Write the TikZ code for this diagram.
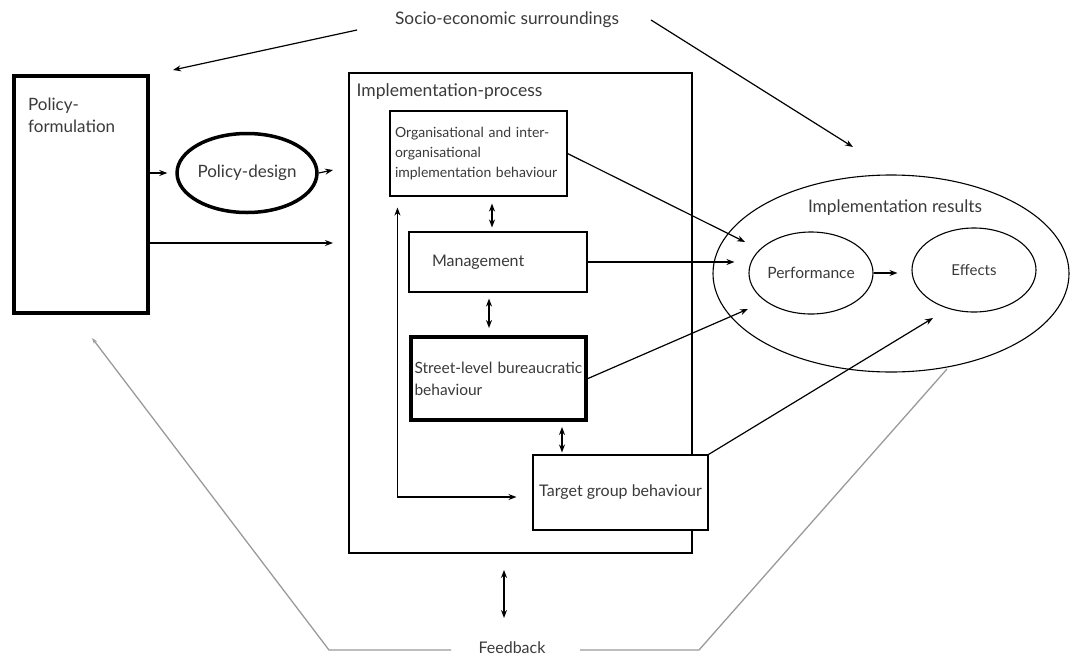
\documentclass[tikz,border=0pt]{standalone}
\usepackage{fontspec}
\setmainfont{Lato}
\usetikzlibrary{arrows.meta,shapes.geometric,positioning}
\definecolor{feedgray}{HTML}{9A9A9A}
\definecolor{labelgray}{HTML}{3A3A3A}

\begin{document}
\begin{tikzpicture}[
  x=1pt,y=-1pt,
  >={Stealth[length=8pt,width=6pt]},
  box/.style={draw,line width=1.1pt,fill=white,inner sep=0pt},
  heavybox/.style={draw,line width=4pt,fill=white,inner sep=0pt},
  oval/.style={ellipse,draw,line width=1.1pt,inner sep=0pt},
  link/.style={line width=1.2pt,->},
  twoway/.style={line width=1.4pt,<->},
  feedline/.style={feedgray,line width=1.3pt},
  every node/.style={text=labelgray,font=\fontsize{16}{20}\selectfont}
]
  \useasboundingbox (0,0) rectangle (1071,659);

  % surroundings and policy side
  \node[font=\fontsize{17.3}{20}\selectfont] (socio) at (507,20) {Socio-economic surroundings};
  \node[heavybox,minimum width=134pt,minimum height=237pt] (formulation) at (81,194.5) {};
  \node[anchor=north west,inner sep=0pt,align=left,font=\fontsize{17}{22}\selectfont]
    (formulationlabel) at ([xshift=16pt,yshift=-24pt]formulation.north west) {Policy-\\formulation};
  \node[oval,line width=3.5pt,minimum width=121pt,minimum height=79pt,font=\fontsize{17}{20}\selectfont]
    (design) at (247,173) {Policy-design};

  % implementation process
  \node[box,minimum width=343pt,minimum height=480pt] (impl) at (520.5,313) {};
  \node[anchor=north west,inner sep=0pt,font=\fontsize{17.5}{20}\selectfont]
    (impllabel) at ([xshift=8pt,yshift=-11pt]impl.north west) {Implementation-process};
  \node[box,minimum width=177pt,minimum height=85pt,text width=167pt,align=left,font=\fontsize{14}{20}\selectfont]
    (org) at (478.5,153.5) {Organisational and inter-\\organisational\\implementation behaviour};
  \node[box,minimum width=178pt,minimum height=60pt,text width=132pt,align=left] (mgmt) at (498,262) {Management};
  \node[heavybox,minimum width=175pt,minimum height=83pt,text width=168pt,align=left,font=\fontsize{15.5}{22}\selectfont]
    (street) at (498.5,378.5) {Street-level bureaucratic\\behaviour};
  \node[box,minimum width=175pt,minimum height=75pt] (target) at (620.5,492.5) {Target group behaviour};

  % results
  \node[oval,minimum width=356pt,minimum height=197pt] (results) at (891,273.5) {};
  \node[font=\fontsize{17.3}{20}\selectfont] (resultslabel) at (895,208) {Implementation results};
  \node[oval,minimum width=124pt,minimum height=82pt,font=\fontsize{15.6}{20}\selectfont] (perf) at (811,273) {Performance};
  \node[oval,minimum width=124pt,minimum height=84pt,font=\fontsize{15}{20}\selectfont] (effects) at (974,270) {Effects};
  \node[inner sep=1pt] (feedback) at (512,648) {Feedback};

  % free ends
  \coordinate (socioleft) at (357,30);
  \coordinate (formtip) at (173,70);
  \coordinate (socioright) at (651,20);
  \coordinate (resultstip) at (853,147);
  \coordinate (implin1) at (333,170);
  \coordinate (implin2) at (333,243);
  \coordinate (perfin1) at (745,242);
  \coordinate (perfin3) at (748,309);
  \coordinate (effectsin) at (933,318);
  \coordinate (fbup) at (504,570);
  \coordinate (fbdown) at (504,618);
  \coordinate (fbleft) at (451,650);
  \coordinate (fbleftcorner) at (329,650);
  \coordinate (formfeed) at (92,338);
  \coordinate (fbright) at (580,650);
  \coordinate (fbrightcorner) at (699,650);
  \coordinate (resultsfeed) at (947,369);

  \draw[link] (socioleft) -- (formtip);
  \draw[link] (socioright) -- (resultstip);
  \draw[link,shorten >=8pt] (formulation.east |- design) -- (design.west);
  \draw[link] (design.east) -- (implin1);
  \draw[link] (formulation.east |- implin2) -- (implin2);

  \draw[link] (org.east) -- (perfin1);
  \draw[link,shorten >=14pt] (mgmt.east) -- (mgmt.east -| perf.west);
  \draw[link] (street.east) -- (perfin3);
  \draw[link] (target.north east) -- (effectsin);
  \draw[link,shorten >=14pt] (perf.east) -- (perf.east -| effects.west);

  \draw[twoway,shorten <=7pt,shorten >=4pt] ([xshift=13.5pt]org.south) -- ([xshift=13.5pt]org.south |- mgmt.north);
  \draw[twoway,shorten <=6pt,shorten >=7pt] ([xshift=-9pt]mgmt.south) -- ([xshift=-9pt]mgmt.south |- street.north);
  \draw[twoway,shorten <=5pt,shorten >=2pt] ([xshift=63.5pt]street.south) -- ([xshift=63.5pt]street.south |- target.north);
  \draw[link,<->,shorten <=11pt,shorten >=16pt] ([xshift=8pt]org.south west) |- ([yshift=-4.5pt]target.west);
  \draw[twoway] (fbup) -- (fbdown);

  % feedback
  \draw[feedline,-{Stealth[length=6pt,width=4pt]}] (fbleft) -- (fbleftcorner) -- (formfeed);
  \draw[feedline] (fbright) -- (fbrightcorner) -- (resultsfeed);
\end{tikzpicture}
\end{document}
